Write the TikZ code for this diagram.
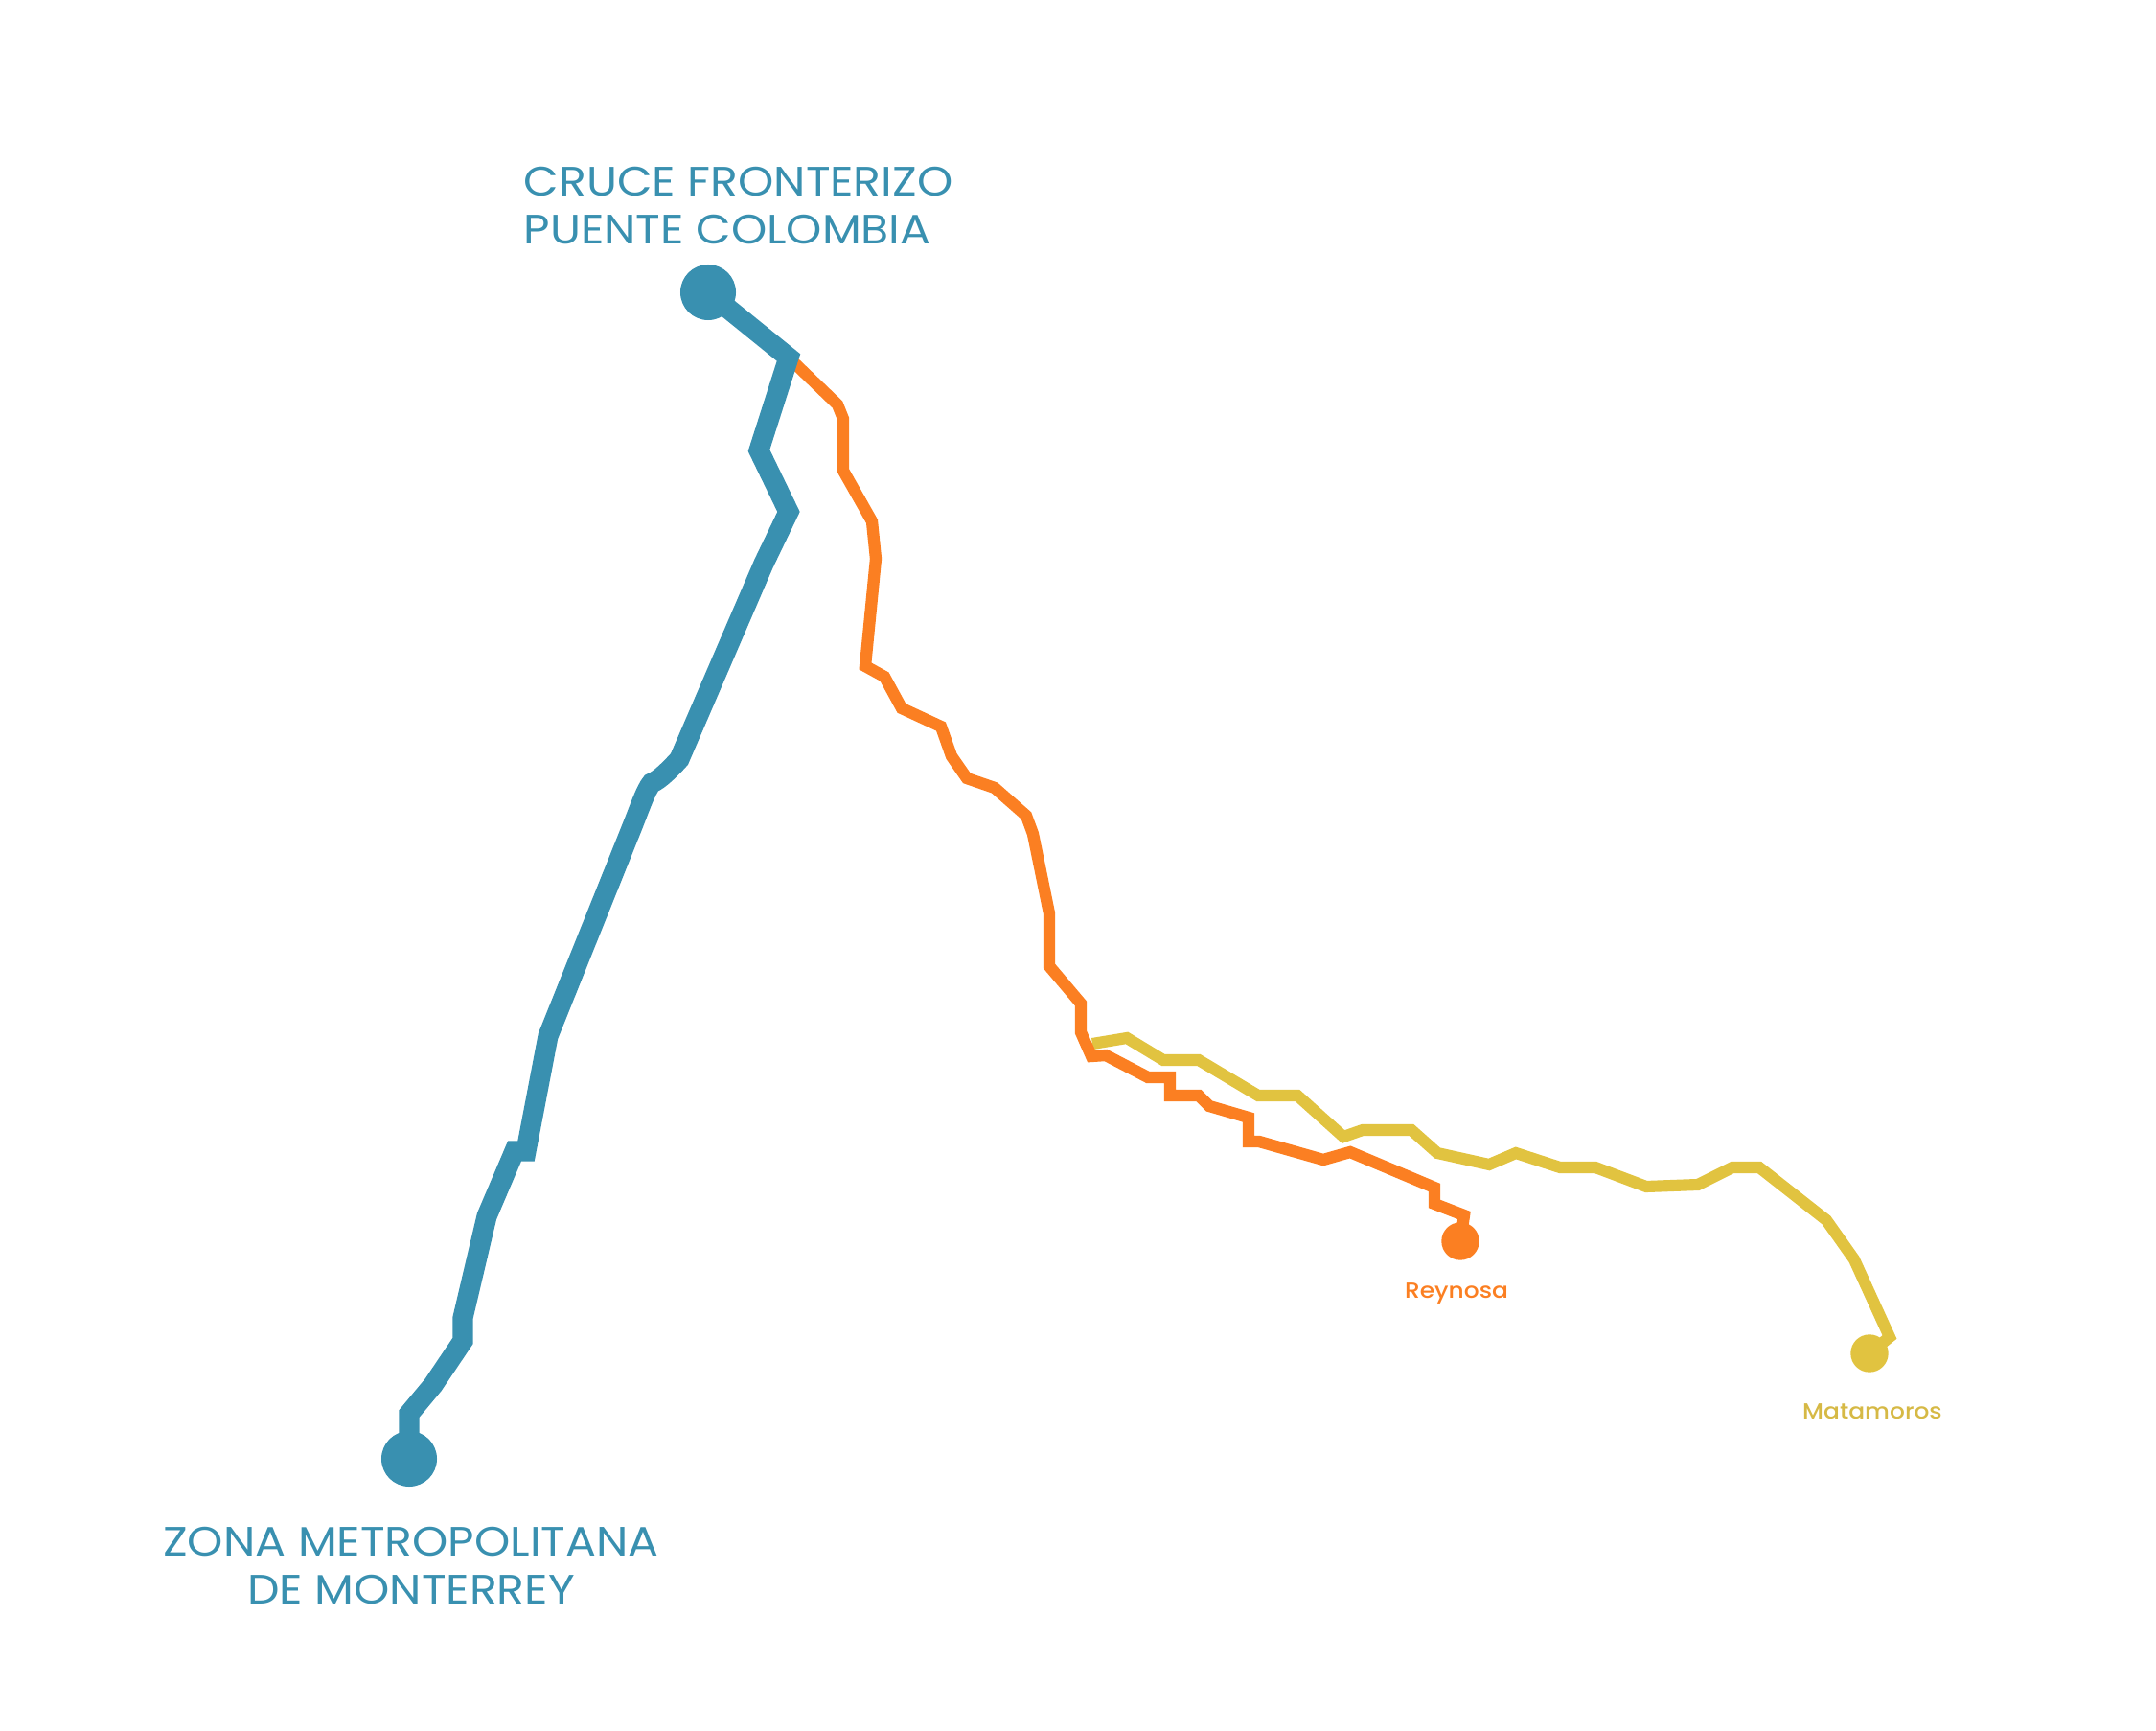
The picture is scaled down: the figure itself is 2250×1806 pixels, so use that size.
\documentclass[tikz,border=0pt]{standalone}
\usepackage{fontspec}
\setmainfont[FakeStretch=1.105]{Poppins}
\newfontfamily\citylabelfont[FakeStretch=1.09]{Poppins Medium}
\usepackage[HTML]{xcolor}
\definecolor{routeblue}{HTML}{3990B0}
\definecolor{routeorange}{HTML}{FB7F22}
\definecolor{routeyellow}{HTML}{E1C340}
\definecolor{labelyellow}{HTML}{D6B945}
\tikzset{
  bluepath/.style={routeblue,line width=6pt},
  orangepath/.style={routeorange,line width=3.5pt},
  yellowpath/.style={routeyellow,line width=3.45pt},
  bigstop/.style={circle,fill=routeblue,inner sep=0pt,minimum size=16.5pt},
  smallstop/.style={circle,inner sep=0pt,minimum size=11.2pt},
  biglabel/.style={text=routeblue,inner sep=0pt,font=\fontsize{12.2}{14.2}\selectfont},
  smalllabel/.style={inner sep=0pt,font=\citylabelfont\fontsize{6.5}{8}\selectfont}
}
\begin{document}
\begin{tikzpicture}[x=0.01cm,y=-0.01cm]
\useasboundingbox (0,0) rectangle (2250,1806);
% end points
\node[bigstop] (monterrey) at (427,1522) {};
\node[bigstop] (puente) at (739,305) {};
\node[smallstop,fill=routeorange] (reynosa) at (1524,1295) {};
\node[smallstop,fill=routeyellow] (matamoros) at (1951,1412) {};
\coordinate (fork) at (823,373);
\coordinate (split) at (1140,1089);
% route to Matamoros
\draw[yellowpath] (split) -- (1176,1083) -- (1214,1106) -- (1251,1106) -- (1313,1143)
  -- (1354,1143) -- (1402,1186) -- (1422,1179) -- (1473,1179) -- (1500,1203) -- (1554,1215)
  -- (1582,1203) -- (1628,1218) -- (1665,1218) -- (1718,1238) -- (1772,1236) -- (1808,1218)
  -- (1836,1218) -- (1906,1273) -- (1935,1314) -- (1972,1395) -- (matamoros.center);
% route to Reynosa
\draw[orangepath] (fork) -- (874,422) -- (880,437) -- (880,491) -- (910,544) -- (914,583)
  -- (903,695) -- (923,706) -- (941,739) -- (982,758) -- (993,789) -- (1009,812)
  -- (1038,822) -- (1071,851) -- (1078,870) -- (1095,953) -- (1095,1008) -- (1128,1047)
  -- (1128,1077) -- (1139,1102) -- (1154,1101) -- (1198,1124) -- (1221,1124) -- (1221,1143)
  -- (1251,1143) -- (1262,1154) -- (1303,1166) -- (1303,1191) -- (1314,1191) -- (1381,1210)
  -- (1409,1202) -- (1497,1239) -- (1497,1256) -- (1528,1268) -- (reynosa.center);
% main route
\draw[bluepath] (monterrey.center) -- (427,1475) -- (452,1445) -- (483,1399) -- (483,1375)
  -- (508,1269) -- (537,1201) -- (549,1201) -- (572,1081) -- (660,862)
  .. controls (668,842) and (674,824) .. (680,817)
  .. controls (688,814) and (700,802) .. (709,792)
  -- (797,588) -- (823,534) -- (792,470) -- (fork) -- (puente.center);
% labels
\node[biglabel,anchor=base west] (cruce) at (546,205) {CRUCE FRONTERIZO};
\node[biglabel,anchor=base west] (colombia) at (546,255) {PUENTE COLOMBIA};
\node[biglabel,anchor=base] (zona) at (429,1623) {ZONA METROPOLITANA};
\node[biglabel,anchor=base] (demonterrey) at (429,1673) {DE MONTERREY};
\node[smalllabel,text=routeorange,anchor=base] (reynosalabel) at (1520,1354) {Reynosa};
\node[smalllabel,text=labelyellow,anchor=base] (matamoroslabel) at (1954,1480) {Matamoros};
\end{tikzpicture}
\end{document}
